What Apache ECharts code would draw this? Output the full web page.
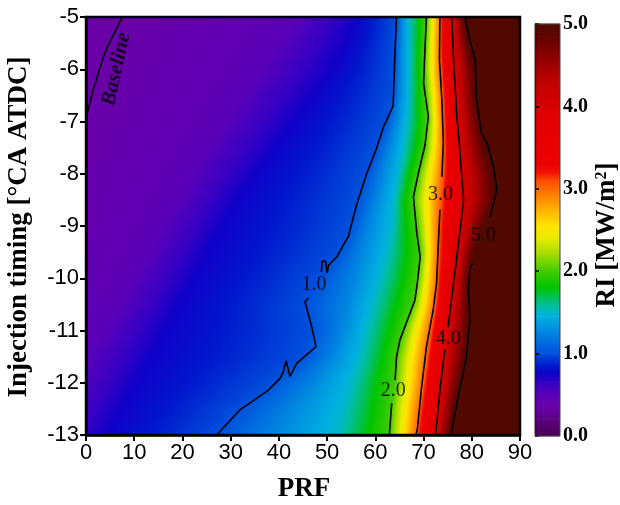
<!DOCTYPE html>
<html><head><meta charset="utf-8">
<script src="https://cdn.jsdelivr.net/npm/echarts@6/dist/echarts.min.js"></script>
<style>html,body{margin:0;padding:0;background:#fff}#c{width:620px;height:505px}</style>
</head><body><div id="c"></div>
<script>
// ---- rows of the field (injection timing) and x-position (PRF) where each RI level is crossed ----
const rowY   = [-13,-12.5,-12,-11.5,-11,-10.5,-10,-9.5,-9,-8.5,-8,-7.5,-7,-6.5,-6,-5.5,-5];
const levels = [0.35,0.5,0.75,1.0,1.25,1.5,1.75,2.0,3.0,4.0,5.0];
const lv035 = [-30,-27,-24,-21,-18,-16,-14,-12,-10,-8,-6,-3,-0.3,1.5,3.3,5.0,7.4];
const lv050 = [-8,-5,-2,0.5,4,7,10,13,16,19,22,25,29,32,36,40,44];
const lv075 = [4,7,10,13,16,19,22,25,28,31,35,39,43,47,51,54,56];
const lv100 = [27.1,31.9,38.5,45,47,45.6,48.5,52.5,55,56.4,58.2,60.3,62.3,63.7,64.0,64.2,64.4];
const lv125 = [39,42.5,47,51,53,54,55.5,57,58.5,60,61.5,62.8,64.3,65,65.2,65.3,65.5];
const lv150 = [52,53.5,55,56.8,58,59.5,61,62.5,63.5,64,64.8,65.8,66.6,67,67,67,67];
const lv175 = [57.5,58.5,59.5,60.8,62,63.5,65,65.8,65.8,65.6,66.6,68,68.6,68.6,68.5,68.6,68.8];
const lv200 = [62.9,63.3,64.0,64.4,65.8,67.8,68.7,69.3,68.7,68.0,68.9,70.3,70.8,70.5,70.1,70.3,70.6];
const lv300 = [68.4,69.0,69.8,70.5,71.3,72.2,72.7,72.9,73.0,73.3,73.8,74.1,74.0,73.8,73.4,73.3,73.4];
const lv400 = [72.5,73.0,73.6,74.3,75.0,75.6,76.3,76.9,77.5,78.3,78.0,77.4,77.0,76.7,76.3,76.0,75.8];
const lv500 = [75.7,76.5,77.7,78.9,79.4,79.6,79.6,80.5,82.7,85.0,84.7,83.0,81.8,81.0,80.8,79.5,78.6];
const levelX = [lv035,lv050,lv075,lv100,lv125,lv150,lv175,lv200,lv300,lv400,lv500];

// ---- contour lines (black) ----
const c1a = [[64.4,-5],[64.1,-5.6],[63.7,-6.7],[61.7,-7.1],[60.3,-7.5],[58.2,-8.0],[56.1,-8.6],[54.4,-9.2],[52.0,-9.59],[50.3,-9.75],[50.0,-9.9],[49.7,-9.68],[49.0,-9.67],[48.8,-9.88]];
const c1b = [[46.1,-10.38],[45.4,-10.45],[46.3,-10.75],[46.8,-10.93],[47.7,-11.31],[43.7,-11.63],[42.3,-11.88],[41.5,-11.58],[40.9,-11.79],[40.2,-11.92],[37.8,-12.14],[35.4,-12.3],[31.9,-12.52],[27.1,-13]];
const c2a = [[70.6,-5],[70.3,-5.6],[70.0,-6.27],[71.0,-6.9],[70.3,-7.45],[68.9,-8.0],[67.9,-8.44],[68.6,-9.14],[69.3,-9.59],[68.7,-10.1],[68.2,-10.42],[65.1,-11.18],[64.4,-11.5],[64.1,-11.95]];
const c2b = [[63.4,-12.39],[62.9,-13]];
const c3a = [[73.4,-5],[73.3,-5.82],[73.8,-6.59],[74.1,-7.4],[73.8,-8.06]];
const c3b = [[73.4,-8.69],[73.1,-9.27],[72.7,-10.1],[72.0,-10.6],[70.6,-11.31],[69.6,-12.08],[68.7,-12.9],[68.4,-13]];
const c4a = [[75.8,-5],[76.3,-5.95],[76.9,-6.91],[77.4,-7.4],[78.3,-8.5],[77.6,-9.08],[76.2,-10.1],[75.1,-10.93]];
const c4b = [[74.4,-11.37],[73.4,-12.14],[72.5,-13]];
const c5a = [[78.6,-5],[79.6,-5.44],[80.7,-5.82],[81.0,-6.59],[82.0,-7.23],[83.1,-7.4],[84.5,-7.86],[85.2,-8.31],[83.8,-8.82]];
const c5b = [[80.3,-9.71],[79.6,-9.8],[79.3,-10.2],[79.6,-10.8],[78.9,-11.5],[77.9,-11.95],[76.5,-12.59],[75.7,-13]];
const baseLine = [[0,-6.94],[1.5,-6.4],[3.25,-5.86],[4.15,-5.63],[7.4,-5.02]];

// ---- contour labels ----
const lblText = ['1.0','2.0','3.0','4.0','5.0'];
const lblX = [47.3,63.7,73.5,75.1,82.4];
const lblY = [-10.12,-12.16,-8.41,-11.16,-9.19];
const baseText = 'Baseline', baseX = 6.3, baseY = -6.0;

// ---- colour scale ----
const cmapV = [0.0,0.2,0.35,0.5,0.65,0.75,0.85,1.0,1.15,1.3,1.45,1.55,1.65,1.8,2.0,2.2,2.4,2.55,2.75,2.95,3.1,3.2,3.3,3.9,4.3,4.6,4.85,5.0];
const cmapC = ['#4a0058','#5c0080','#6a00a8','#5a00b8','#3400c4','#1000c8','#0018cc','#0050dc','#0070e0','#0090e0','#00b0e0','#00bcb0','#00c070','#00c400','#40cc00','#a0dc00','#e8ec00','#ffe400','#ffb000','#ff7800','#ff4c00','#f01000','#ee0000','#e00000','#c00000','#8c0000','#600400','#500800'];
const xTicks = {min:0,max:90,step:10};
const yTicks = {min:-13,max:-5,step:1};
const cbTicks = {min:0,max:5,step:1};

function hex2rgb(h){return [parseInt(h.slice(1,3),16),parseInt(h.slice(3,5),16),parseInt(h.slice(5,7),16)];}
const cmapRGB = cmapC.map(hex2rgb);
function cmap(v){
  const n = cmapV.length;
  if (v <= cmapV[0]) return cmapC[0];
  if (v >= cmapV[n-1]) return cmapC[n-1];
  for (let j=0;j<n-1;j++){
    if (v >= cmapV[j] && v <= cmapV[j+1]){
      const t = (v-cmapV[j])/(cmapV[j+1]-cmapV[j]);
      const a = cmapRGB[j], b = cmapRGB[j+1];
      return 'rgb('+Math.round(a[0]+(b[0]-a[0])*t)+','+Math.round(a[1]+(b[1]-a[1])*t)+','+Math.round(a[2]+(b[2]-a[2])*t)+')';
    }
  }
  return cmapC[n-1];
}

function fieldItem(params, api){
  const i = params.dataIndex;
  if (i >= rowY.length-1) return {type:'group', children:[]};
  const S = 12, children = [];
  for (let s=0;s<S;s++){
    const t0=s/S, t1=(s+1)/S, tc=(s+0.5)/S;
    const ya = rowY[i]+(rowY[i+1]-rowY[i])*t0, yb = rowY[i]+(rowY[i+1]-rowY[i])*t1;
    const pts = [];
    for (let k=0;k<levels.length;k++){
      let p = levelX[k][i]*(1-tc)+levelX[k][i+1]*tc;
      if (k>0 && p <= pts[k-1]) p = pts[k-1]+0.01;
      pts.push(p);
    }
    const marks = [];
    for (let k=0;k<levels.length;k++){
      marks.push([pts[k], levels[k]]);
      if (k<levels.length-1){
        for (const kv of cmapV){
          if (kv>levels[k] && kv<levels[k+1]){
            marks.push([pts[k]+(pts[k+1]-pts[k])*(kv-levels[k])/(levels[k+1]-levels[k]), kv]);
          }
        }
      }
    }
    const p0 = pts[0], pN = pts[pts.length-1];
    const stops = marks.map(m=>({offset:Math.min(1,Math.max(0,(m[0]-p0)/(pN-p0))), color:cmap(m[1])}));
    const gx0 = api.coord([p0, ya])[0], gx1 = api.coord([pN, ya])[0];
    const lt = api.coord([xTicks.min, yb]), rb = api.coord([xTicks.max, ya]);
    children.push({type:'rect', shape:{x:lt[0], y:lt[1]-0.4, width:rb[0]-lt[0], height:rb[1]-lt[1]+0.8},
      style:{fill:new echarts.graphic.LinearGradient(gx0,0,gx1,0,stops,true)}});
  }
  return {type:'group', children};
}

function cbarItem(params, api){
  const j = params.dataIndex;
  if (j >= cmapV.length-1) return {type:'group', children:[]};
  const a = api.coord([0, cmapV[j]]), b = api.coord([1, cmapV[j+1]]);
  return {type:'rect', shape:{x:a[0], y:b[1]-0.3, width:b[0]-a[0], height:a[1]-b[1]+0.6},
    style:{fill:new echarts.graphic.LinearGradient(0,1,0,0,[{offset:0,color:cmapC[j]},{offset:1,color:cmapC[j+1]}])}};
}

function contour(data){
  return {type:'line', xAxisIndex:0, yAxisIndex:0, data:data, symbol:'none', z:5, silent:true,
    lineStyle:{color:'#000', width:1.6}, clip:true};
}

const chart = echarts.init(document.getElementById('c'), null, {renderer:'canvas'});
const axisCommon = {
  axisLine:{show:true, onZero:false, lineStyle:{color:'#000', width:2.5}},
  axisTick:{show:true, inside:false, length:6, lineStyle:{color:'#000', width:2}},
  axisLabel:{color:'#000', fontSize:22, fontFamily:'"Liberation Sans", Arial', margin:7},
  splitLine:{show:false}, z:10
};
chart.setOption({
  animation:false,
  backgroundColor:'#fff',
  grid:[
    {left:86, top:17, width:434, height:418, containLabel:false},
    {left:535, top:24, width:25, height:412, containLabel:false}
  ],
  xAxis:[
    Object.assign({type:'value', gridIndex:0, min:xTicks.min, max:xTicks.max, interval:xTicks.step}, axisCommon),
    {type:'value', gridIndex:1, min:0, max:1, show:false}
  ],
  yAxis:[
    Object.assign({type:'value', gridIndex:0, min:yTicks.min, max:yTicks.max, interval:yTicks.step}, axisCommon),
    {type:'value', gridIndex:1, min:cbTicks.min, max:cbTicks.max, interval:cbTicks.step, position:'right',
     axisLine:{show:true, lineStyle:{color:'#000', width:1.2}},
     axisTick:{show:true, inside:false, length:4, lineStyle:{color:'#000', width:1.5}},
     axisLabel:{color:'#000', fontSize:20, fontWeight:'bold', fontFamily:'"Liberation Serif", "Times New Roman", serif', margin:3,
       formatter:v=>v.toFixed(1)},
     splitLine:{show:false}, z:10}
  ],
  series:[
    {type:'custom', xAxisIndex:0, yAxisIndex:0, renderItem:fieldItem, clip:true, silent:true, z:1,
     data:rowY.map(y=>[0,y]), encode:{x:0,y:1}},
    {type:'custom', xAxisIndex:1, yAxisIndex:1, renderItem:cbarItem, silent:true, z:1,
     data:cmapV.map(v=>[0,v]), encode:{x:0,y:1}},
    contour(c1a), contour(c1b), contour(c2a), contour(c2b), contour(c3a), contour(c3b),
    contour(c4a), contour(c4b), contour(c5a), contour(c5b), contour(baseLine),
    {type:'scatter', xAxisIndex:0, yAxisIndex:0, symbolSize:0, silent:true, z:6,
     data:lblX.map((x,i)=>({value:[x,lblY[i]], label:{formatter:lblText[i]}})),
     label:{show:true, position:'inside', color:'#000', fontSize:20, fontFamily:'"Liberation Serif", "Times New Roman", serif'}},
    {type:'scatter', xAxisIndex:0, yAxisIndex:0, symbolSize:0, silent:true, z:6,
     data:[{value:[baseX,baseY], label:{formatter:baseText}}],
     label:{show:true, position:'inside', rotate:77.6, color:'#000', fontSize:21, fontWeight:'bold', fontStyle:'italic',
       fontFamily:'"Liberation Serif", "Times New Roman", serif'}}
  ],
  graphic:[
    {type:'rect', shape:{x:86, y:17, width:434, height:418}, style:{fill:null, stroke:'#000', lineWidth:2.5}, z:100, silent:true},
    {type:'rect', shape:{x:535, y:24, width:25, height:412}, style:{fill:null, stroke:'#444', lineWidth:1}, z:100, silent:true},
    {type:'text', x:304, y:489, z:100, style:{text:'PRF', font:'bold 27px "Liberation Serif", serif', fill:'#000', align:'center', verticalAlign:'middle'}},
    {type:'text', x:19, y:227, rotation:Math.PI/2, z:100, style:{text:'Injection timing [°CA ATDC]', font:'bold 27px "Liberation Serif", serif', fill:'#000', align:'center', verticalAlign:'middle'}},
    {type:'text', x:607, y:235, rotation:Math.PI/2, z:100, style:{text:'RI [MW/m{sup|2}]', font:'bold 27px "Liberation Serif", serif', fill:'#000', align:'center', verticalAlign:'middle',
      rich:{sup:{font:'bold 16px "Liberation Serif", serif', fill:'#000', verticalAlign:'top', padding:[0,0,10,0]}}}}
  ]
});
</script>
</body></html>
